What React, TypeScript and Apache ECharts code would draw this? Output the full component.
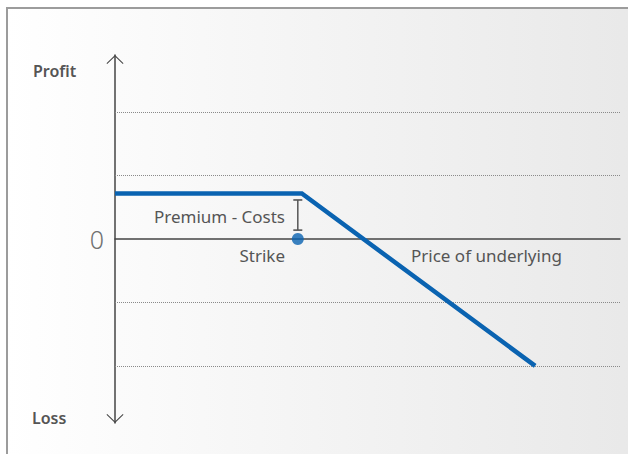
import React, { useEffect, useRef } from "react";
import * as echarts from "echarts";

// Payoff profile of a short call (x: price of underlying, y: profit/loss)
const payoffX = [0, 37.0, 83.2];
const payoffY = [0.717, 0.717, -2.0];
// Strike marker and premium bracket
const strikeX = [36.2];
const strikeY = [0];
const premiumBracketY = [0.14, 0.615];
// Dotted reference levels
const gridLevels = [-2, -1, 1, 2];
// Axis ranges
const yRange = [-2.9, 2.9];
const xRange = [0, 100];
const zeroLabel = ["0"];

const BLUE = "#0a63b1";
const FONT = "'Noto Sans', 'DejaVu Sans', sans-serif";

export default function App() {
  const ref = useRef<HTMLDivElement>(null);

  useEffect(() => {
    document.body.style.margin = "0";
    if (!ref.current) return;
    const chart = echarts.init(ref.current, undefined, { renderer: "svg" });

    const chevron =
      "path://M0,8.3 L8.5,0 L17,8.3 L16.3,9 L8.5,1.4 L0.7,9 Z";

    const option: any = {
      animation: false,
      grid: { left: 115, right: 8, top: 55, bottom: 31 },
      xAxis: {
        type: "value",
        min: xRange[0],
        max: xRange[1],
        axisLine: { show: true, onZero: true, lineStyle: { color: "#444", width: 1.5 } },
        axisTick: { show: false },
        axisLabel: { show: false },
        splitLine: { show: false },
      },
      yAxis: {
        type: "value",
        min: yRange[0],
        max: yRange[1],
        axisLine: {
          show: true,
          onZero: false,
          symbol: [chevron, chevron],
          symbolSize: [17, 9],
          symbolOffset: [4.5, -4.5],
          lineStyle: { color: "#444", width: 1.5 },
        },
        axisTick: { show: false },
        splitLine: { show: false },
        axisLabel: {
          margin: 11,
          fontSize: 25,
          fontWeight: 300,
          color: "#707070",
          fontFamily: FONT,
          formatter: (v: number) => (Math.abs(v) < 1e-9 ? zeroLabel[0] : ""),
        },
      },
      graphic: [
        {
          type: "rect",
          z: -10,
          silent: true,
          shape: { x: 7, y: 8, width: 700, height: 500 },
          style: {
            fill: new echarts.graphic.LinearGradient(0, 0, 1, 0, [
              { offset: 0, color: "#ffffff" },
              { offset: 1, color: "#e6e6e6" },
            ]),
            stroke: "#9c9c9c",
            lineWidth: 2,
          },
        },
        {
          type: "text",
          x: 33,
          y: 71,
          style: {
            text: "Profit",
            font: `600 16px ${FONT}`,
            fill: "#555",
            verticalAlign: "middle",
          },
        },
        {
          type: "text",
          x: 32,
          y: 418,
          style: {
            text: "Loss",
            font: `600 16px ${FONT}`,
            fill: "#555",
            verticalAlign: "middle",
          },
        },
        {
          type: "text",
          x: 285,
          y: 216,
          style: {
            text: "Premium - Costs",
            font: `17px ${FONT}`,
            fill: "#555",
            align: "right",
            verticalAlign: "middle",
          },
        },
        {
          type: "text",
          x: 285,
          y: 255,
          style: {
            text: "Strike",
            font: `17px ${FONT}`,
            fill: "#555",
            align: "right",
            verticalAlign: "middle",
          },
        },
        {
          type: "text",
          x: 411,
          y: 255,
          style: {
            text: "Price of underlying",
            font: `17px ${FONT}`,
            fill: "#555",
            align: "left",
            verticalAlign: "middle",
          },
        },
      ],
      series: [
        {
          type: "line",
          z: 1,
          data: [],
          silent: true,
          markLine: {
            silent: true,
            symbol: ["none", "none"],
            label: { show: false },
            lineStyle: { type: "dotted", color: "#8a8a8a", width: 1 },
            data: gridLevels.map((v) => ({ yAxis: v })),
          },
        },
        {
          type: "line",
          z: 5,
          data: payoffX.map((x, i) => [x, payoffY[i]]),
          showSymbol: false,
          symbol: "none",
          lineStyle: { color: BLUE, width: 4.5, join: "miter" },
        },
        {
          type: "line",
          z: 4,
          data: premiumBracketY.map((y) => [strikeX[0], y]),
          symbol: "rect",
          symbolSize: [9, 1.6],
          itemStyle: { color: "#555" },
          lineStyle: { color: "#555", width: 1.5 },
        },
        {
          type: "scatter",
          z: 6,
          data: strikeX.map((x, i) => [x, strikeY[i]]),
          symbol: "circle",
          symbolSize: 12,
          itemStyle: { color: BLUE },
        },
      ],
    };

    chart.setOption(option);
    return () => chart.dispose();
  }, []);

  return <div ref={ref} style={{ width: 628, height: 454 }} />;
}
